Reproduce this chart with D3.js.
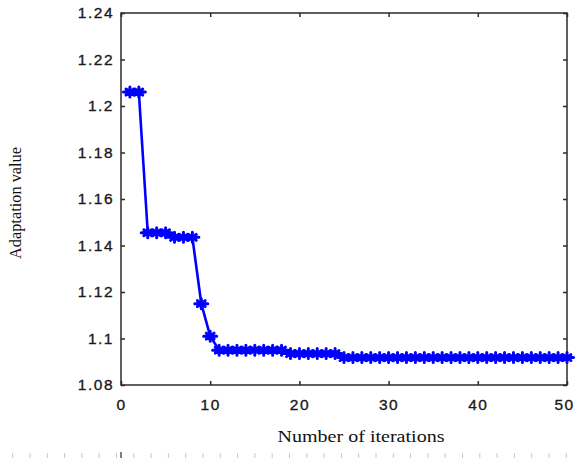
<!DOCTYPE html>
<html>
<head>
<meta charset="utf-8">
<script src="https://cdn.jsdelivr.net/npm/d3@7"></script>
<style>
html,body{margin:0;padding:0;background:#fff;}
svg{display:block;}
</style>
</head>
<body>
<svg id="chart" width="576" height="459"></svg>
<script>
const iterations = d3.range(1, 51);
const adaptation = [
  1.206, 1.206, 1.1455, 1.1455, 1.1455, 1.1435, 1.1435, 1.1435, 1.115, 1.101,
  1.095, 1.095, 1.095, 1.095, 1.095, 1.095, 1.095, 1.095, 1.0935, 1.0935,
  1.0935, 1.0935, 1.0935, 1.0935, 1.0918, 1.0918, 1.0918, 1.0918, 1.0918, 1.0918,
  1.0918, 1.0918, 1.0918, 1.0918, 1.0918, 1.0918, 1.0918, 1.0918, 1.0918, 1.0918,
  1.0918, 1.0918, 1.0918, 1.0918, 1.0918, 1.0918, 1.0918, 1.0918, 1.0918, 1.0918
];
const xTicks = [0, 10, 20, 30, 40, 50];
const yTicks = [1.08, 1.10, 1.12, 1.14, 1.16, 1.18, 1.20, 1.22, 1.24];
const yTickLabels = ["1.08", "1.1", "1.12", "1.14", "1.16", "1.18", "1.2", "1.22", "1.24"];
const xLabel = "Number of iterations";
const yLabel = "Adaptation value";

const data = iterations.map((d, i) => ({x: d, y: adaptation[i]}));

const L = 121, R = 567, T = 13, B = 385;
const svg = d3.select("#chart");
const x = d3.scaleLinear().domain([0, 50]).range([L, R]);
const y = d3.scaleLinear().domain([1.08, 1.24]).range([B, T]);

const axisColor = "#2b2b2b";
const tickLen = 4;

svg.append("rect").attr("x", L).attr("y", T).attr("width", R - L).attr("height", B - T)
  .attr("fill", "none").attr("stroke", axisColor).attr("stroke-width", 1.5);

const styleText = sel => sel.attr("font-family", "Liberation Sans, Arial, sans-serif")
  .attr("font-size", 15.5).attr("fill", "#1a1a1a")
  .attr("stroke", "#1a1a1a").attr("stroke-width", 0.35)
  .style("letter-spacing", "1.5px");

const gL = svg.append("g").attr("transform", `translate(${L},0)`)
  .call(d3.axisLeft(y).tickValues(yTicks).tickSize(-tickLen).tickPadding(8)
    .tickFormat((d, i) => yTickLabels[i]));
gL.select(".domain").remove();
gL.selectAll(".tick line").attr("stroke", axisColor).attr("stroke-width", 1.5);
gL.selectAll(".tick text").call(styleText).attr("dx", "1px");

const gR = svg.append("g").attr("transform", `translate(${R},0)`)
  .call(d3.axisRight(y).tickValues(yTicks).tickSize(-tickLen).tickFormat(""));
gR.select(".domain").remove();
gR.selectAll(".tick line").attr("stroke", axisColor).attr("stroke-width", 1.5);

const gB = svg.append("g").attr("transform", `translate(0,${B})`)
  .call(d3.axisBottom(x).tickValues(xTicks).tickSize(-tickLen).tickPadding(14));
gB.select(".domain").remove();
gB.selectAll(".tick line").attr("stroke", axisColor).attr("stroke-width", 1.5);
gB.selectAll(".tick text").call(styleText)
  .attr("dx", d => d === 50 ? "-3px" : "0px");

const gT = svg.append("g").attr("transform", `translate(0,${T})`)
  .call(d3.axisTop(x).tickValues(xTicks).tickSize(-tickLen).tickFormat(""));
gT.select(".domain").remove();
gT.selectAll(".tick line").attr("stroke", axisColor).attr("stroke-width", 1.5);

const line = d3.line().x(d => x(d.x)).y(d => y(d.y));
svg.append("path").datum(data).attr("d", line)
  .attr("fill", "none").attr("stroke", "#0000ff").attr("stroke-width", 2.6)
  .attr("stroke-linejoin", "round");

const mw = 6.5, mh = 5;
const markerPath = `M${-mw},0L${mw},0M0,${-mh}L0,${mh}M${-mw*0.6},${-mh*0.6}L${mw*0.6},${mh*0.6}M${-mw*0.6},${mh*0.6}L${mw*0.6},${-mh*0.6}`;
svg.append("g").selectAll("path").data(data).join("path")
  .attr("transform", d => `translate(${x(d.x)},${y(d.y)})`)
  .attr("d", markerPath)
  .attr("fill", "none").attr("stroke", "#0000ff").attr("stroke-width", 3)
  .attr("stroke-linecap", "round");

svg.append("text").attr("x", 361).attr("y", 442)
  .attr("text-anchor", "middle")
  .attr("font-family", "Liberation Serif, Times New Roman, serif")
  .attr("font-size", 17.5).attr("fill", "#111")
  .attr("textLength", 167).attr("lengthAdjust", "spacingAndGlyphs")
  .text(xLabel);

svg.append("text").attr("transform", "translate(21,203) rotate(-90)")
  .attr("text-anchor", "middle")
  .attr("font-family", "Liberation Serif, Times New Roman, serif")
  .attr("font-size", 16.5).attr("fill", "#111")
  .attr("textLength", 112).attr("lengthAdjust", "spacingAndGlyphs")
  .text(yLabel);

const dots = d3.range(0, 33).map(i => 12.7 + i * 17.3);
svg.append("g").selectAll("line").data(dots).join("line")
  .attr("x1", d => d).attr("x2", d => d).attr("y1", 453).attr("y2", 458)
  .attr("stroke", "#c8c8c8").attr("stroke-width", 1);
svg.append("line").attr("x1", L).attr("x2", L).attr("y1", 452).attr("y2", 458)
  .attr("stroke", "#000").attr("stroke-width", 1);
</script>
</body>
</html>
